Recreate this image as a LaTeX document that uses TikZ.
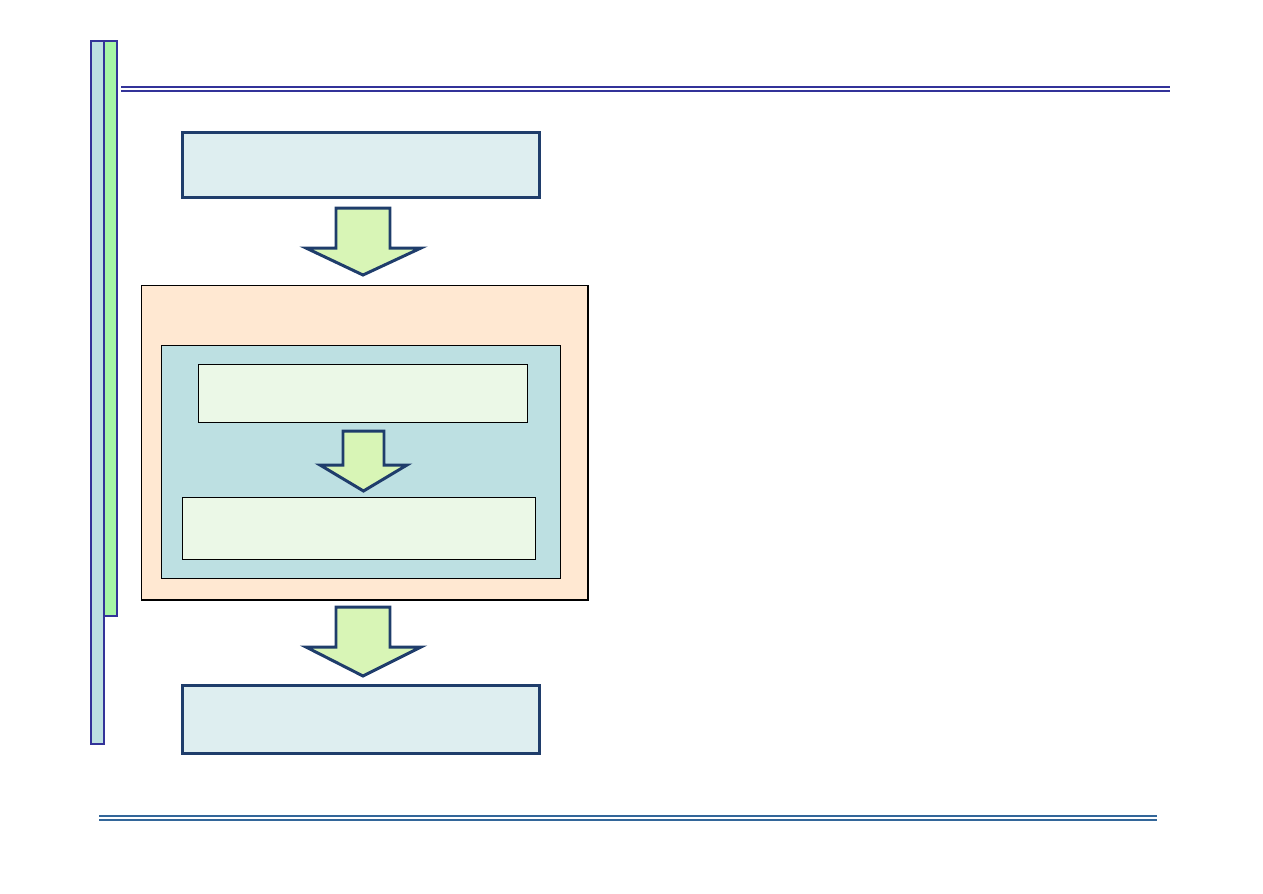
\documentclass[tikz,border=0pt]{standalone}
\usepackage{xcolor}
\usepackage{tikz}
\usetikzlibrary{positioning, calc}

\definecolor{navyline}{HTML}{1F3D6B}
\definecolor{paleblue}{HTML}{DEEEF0}
\definecolor{arrowgreen}{HTML}{D8F5B6}
\definecolor{peach}{HTML}{FFE8D2}
\definecolor{tealbox}{HTML}{BDE0E2}
\definecolor{mintbox}{HTML}{EBF8E7}
\definecolor{rulenavy}{HTML}{333399}
\definecolor{rulesteel}{HTML}{336699}
\definecolor{barblue}{HTML}{BDE0E2}
\definecolor{bargreen}{HTML}{A6F5A6}

\begin{document}
\begin{tikzpicture}[
  outerbox/.style={draw=navyline, fill=paleblue, line width=1.6pt, minimum width=7.14cm, anchor=north west, inner sep=0pt},
  framebox/.style={draw=black, line width=0.6pt, anchor=north west, inner sep=0pt},
  innerbox/.style={draw=black, fill=mintbox, line width=0.6pt, anchor=north west, inner sep=0pt},
  bigarrow/.style={draw=navyline, fill=arrowgreen, line width=1.7pt, line join=miter},
  sidebar/.style={draw=rulenavy, line width=0.8pt},
  doublerule/.style={line width=0.9pt}
]
\useasboundingbox (0,0) rectangle (25.26,-17.86);

% --- Side bars ---
\draw[sidebar, fill=barblue] (1.82,-0.82) rectangle (2.08,-14.88);
\draw[sidebar, fill=bargreen] (2.08,-0.82) rectangle (2.34,-12.32);

% --- Rules ---
\draw[doublerule, rulenavy] (2.42,-1.74) -- (23.40,-1.74);
\draw[doublerule, rulenavy] (2.42,-1.82) -- (23.40,-1.82);
\draw[doublerule, rulesteel] (1.98,-16.32) -- (23.14,-16.32);
\draw[doublerule, rulesteel] (1.98,-16.40) -- (23.14,-16.40);

% --- Top and bottom boxes ---
\node[outerbox, minimum height=1.30cm] (topbox) at (3.62,-2.62) {};
\node[outerbox, minimum height=1.36cm] (endbox) at (3.62,-13.68) {};

% --- Nested frame ---
\node[framebox, fill=peach, minimum width=8.92cm, minimum height=6.28cm] (loopframe) at (2.82,-5.70) {};
\draw[line width=1.2pt] (loopframe.north east) -- (loopframe.south east) -- (loopframe.south west);
\node[framebox, fill=tealbox, minimum width=7.98cm, minimum height=4.66cm] (stepframe) at (3.22,-6.90) {};
\node[innerbox, minimum width=6.58cm, minimum height=1.16cm] (stepa) at (3.96,-7.28) {};
\node[innerbox, minimum width=7.06cm, minimum height=1.24cm] (stepb) at (3.64,-9.94) {};

% --- Block arrows ---
\draw[bigarrow] (6.72,-4.16) -- (7.80,-4.16) -- (7.80,-4.96) -- (8.42,-4.96)
  -- (7.26,-5.50) -- (6.12,-4.96) -- (6.72,-4.96) -- cycle;
\draw[bigarrow] (6.86,-8.62) -- (7.68,-8.62) -- (7.68,-9.30) -- (8.14,-9.30)
  -- (7.27,-9.82) -- (6.40,-9.30) -- (6.86,-9.30) -- cycle;
\draw[bigarrow] (6.72,-12.14) -- (7.80,-12.14) -- (7.80,-12.94) -- (8.42,-12.94)
  -- (7.26,-13.52) -- (6.12,-12.94) -- (6.72,-12.94) -- cycle;

\end{tikzpicture}
\end{document}
